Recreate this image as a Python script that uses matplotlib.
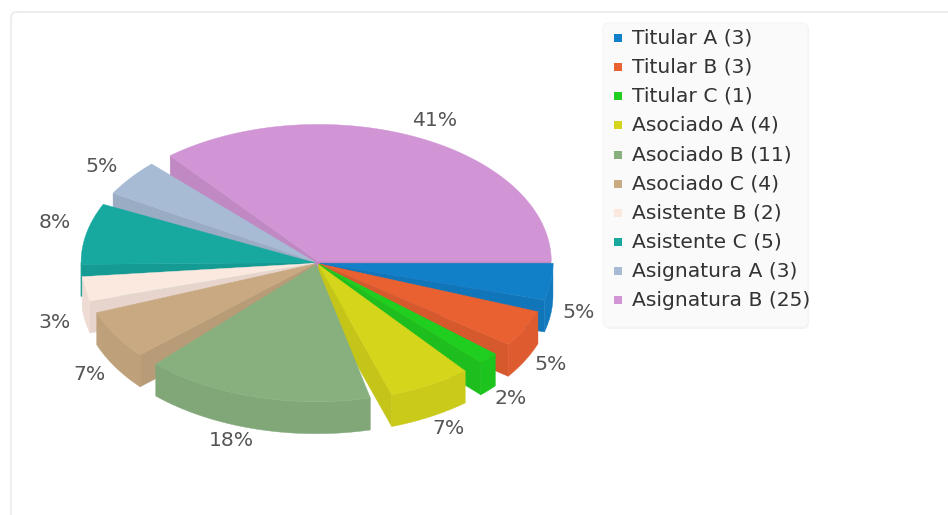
import numpy as np
import matplotlib
matplotlib.use("Agg")
import matplotlib.pyplot as plt
from matplotlib.colors import to_rgb
from matplotlib.patches import Polygon, FancyBboxPatch

# data
names = ["Titular A", "Titular B", "Titular C", "Asociado A", "Asociado B",
         "Asociado C", "Asistente B", "Asistente C", "Asignatura A", "Asignatura B"]
counts = [3, 3, 1, 4, 11, 4, 2, 5, 3, 25]
colors = ["#1280C9", "#E96031", "#20CE20", "#D5D51B", "#88B07F",
          "#C8A981", "#FBE8DF", "#17A9A0", "#A7BBD4", "#D195D5"]

# layout (pixels of the 948x515 picture)
CX, CY = 317, 263
RX, RY = 233, 137
DEPTH = 32
EXPLODE = 3
GAP = 4.9
label_pos = [(579, 313), (551, 365), (511, 399), (449, 428), (231, 441),
             (90, 374), (55, 323), (55, 223), (102, 166), (435, 120)]
draw_order = [9, 8, 7, 6, 5, 0, 1, 2, 3, 4]

fig = plt.figure(figsize=(9.48, 5.15), dpi=100)
ax = fig.add_axes([0, 0, 1, 1])
ax.set_xlim(0, 948)
ax.set_ylim(515, 0)
ax.axis("off")

# card behind the chart
ax.add_patch(FancyBboxPatch((11, 12), 1000, 600, boxstyle="round,pad=0,rounding_size=6",
                            fc="white", ec="#EEEEEE", lw=1.5, zorder=0))


def darker(c, f=0.93):
    return tuple(v * f for v in to_rgb(c))


def pt(a, cx, cy):
    r = np.radians(a)
    return np.column_stack([cx + RX * np.cos(r), cy + RY * np.sin(r)])


# slice angles: sweep proportional to the count, with gaps between slices
counts_arr = np.array(counts, dtype=float)
scale = (360 - GAP * (len(counts) - 1)) / 360
sweeps = counts_arr / counts_arr.sum() * 360 * scale
starts = np.concatenate([[0], np.cumsum(sweeps + GAP)[:-1]])

for i in draw_order:
    a1, a2 = starts[i], starts[i] + sweeps[i]
    mid = np.radians((a1 + a2) / 2)
    cx = CX + EXPLODE * np.cos(mid)
    cy = CY + EXPLODE * RY / RX * np.sin(mid)
    col = colors[i]
    side = darker(col, 0.92)
    wall = darker(col, 0.95)
    z = 2 + draw_order.index(i)

    # radial walls that face the viewer
    if 90 < a1 < 270:
        p = pt(np.array([a1]), cx, cy)[0]
        ax.add_patch(Polygon([(cx, cy), p, p + [0, DEPTH], (cx, cy + DEPTH)],
                             fc=side, ec=side, lw=0.3, zorder=z))
    if a2 < 90 or a2 > 270:
        p = pt(np.array([a2]), cx, cy)[0]
        ax.add_patch(Polygon([(cx, cy), p, p + [0, DEPTH], (cx, cy + DEPTH)],
                             fc=side, ec=side, lw=0.3, zorder=z))

    # outer wall, front half only
    lo, hi = max(a1, 0), min(a2, 180)
    if hi > lo:
        arc = pt(np.linspace(lo, hi, 60), cx, cy)
        poly = np.vstack([arc, arc[::-1] + [0, DEPTH]])
        ax.add_patch(Polygon(poly, fc=wall, ec=wall, lw=0.3, zorder=z))

    # top face
    arc = pt(np.linspace(a1, a2, 120), cx, cy)
    ax.add_patch(Polygon(np.vstack([[cx, cy], arc]), fc=col, ec=col, lw=0.3, zorder=z))

# percent labels
total = sum(counts)
for v, (lx, ly) in zip(counts, label_pos):
    ax.text(lx, ly, f"{round(100 * v / total)}%", ha="center", va="center",
            fontsize=14.7, color="#555555", zorder=30)

# legend box with a soft shadow
ax.add_patch(FancyBboxPatch((605, 25), 204, 304, boxstyle="round,pad=0,rounding_size=6",
                            fc="#EBEBEB", ec="none", alpha=0.6, zorder=19))
ax.add_patch(FancyBboxPatch((603, 23), 205, 304, boxstyle="round,pad=0,rounding_size=6",
                            fc="#FAFAFA", ec="#F4F4F4", lw=0.8, zorder=20))
row_y = 38 + 29.15 * np.arange(len(names))
ax.scatter([618] * len(names), row_y, marker="s", s=34, c=colors, linewidths=0, zorder=21)
for name, v, y in zip(names, counts, row_y):
    ax.text(632, y, f"{name} ({v})", ha="left", va="center", fontsize=14.6,
            color="#333333", zorder=21)

fig.savefig("out.png", dpi=100)
